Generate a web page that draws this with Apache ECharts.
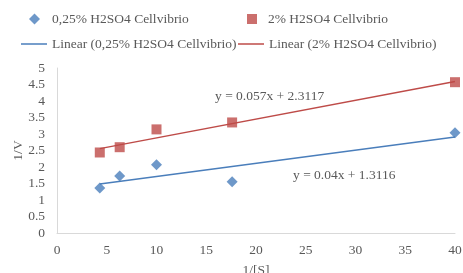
<!DOCTYPE html>
<html>
<head>
<meta charset="utf-8">
<script src="https://cdn.jsdelivr.net/npm/echarts@6/dist/echarts.min.js"></script>
<style>
  html, body { margin: 0; padding: 0; background: #fff; }
  #main { width: 463px; height: 273px; }
</style>
</head>
<body>
<div id="main"></div>
<script>
// 1/[S] values
var xValues = [4.3, 6.3, 10, 17.6, 40];
// 1/V values
var lowAcid = [1.36, 1.73, 2.07, 1.55, 3.04];
var highAcid = [2.44, 2.6, 3.14, 3.35, 4.57];
// trend lines (from the chart equations)
var lowSlope = 0.04, lowIntercept = 1.3116;
var highSlope = 0.057, highIntercept = 2.3117;

var names = ['0,25% H2SO4 Cellvibrio', '2% H2SO4 Cellvibrio',
  'Linear (0,25% H2SO4 Cellvibrio)', 'Linear (2% H2SO4 Cellvibrio)'];

function pairs(ys) {
  return xValues.map(function (x, i) { return [x, ys[i]]; });
}
function trend(a, b) {
  var x0 = Math.min.apply(null, xValues), x1 = Math.max.apply(null, xValues);
  return [[x0, a * x0 + b], [x1, a * x1 + b]];
}

var blue = '#4a7ebb', red = '#be4b48';
var font = 'Liberation Serif';
var textColor = '#595959';
var fs = 13.5;

var myChart = echarts.init(document.getElementById('main'));
function legendText(padLeft) {
  return { fontFamily: font, fontSize: fs, color: textColor, padding: [0, 0, 0, padLeft] };
}
myChart.setOption({
  animation: false,
  legend: [
    { data: [{ name: names[0], icon: 'diamond' }], left: 29, top: 12, padding: 0, itemWidth: 11, itemHeight: 11, textStyle: legendText(7) },
    { data: [{ name: names[1], icon: 'rect' }], left: 247, top: 12, padding: 0, itemWidth: 10, itemHeight: 10, textStyle: legendText(6) },
    { data: [{ name: names[2], icon: 'rect' }], left: 21, top: 37, padding: 0, itemWidth: 26, itemHeight: 1.5, textStyle: legendText(0) },
    { data: [{ name: names[3], icon: 'rect' }], left: 238, top: 37, padding: 0, itemWidth: 26, itemHeight: 1.5, textStyle: legendText(0) }
  ],
  grid: { left: 57, right: 8, top: 68, bottom: 40, containLabel: false, outerBoundsMode: 'none' },
  xAxis: {
    type: 'value', min: 0, max: 40, interval: 5,
    name: '1/[S]', nameLocation: 'middle', nameGap: 30, nameMoveOverlap: false,
    nameTextStyle: { fontFamily: font, fontSize: fs, color: textColor },
    axisLine: { lineStyle: { color: '#d9d9d9' } },
    axisTick: { show: false },
    splitLine: { show: false },
    axisLabel: { fontFamily: font, fontSize: fs, color: textColor, margin: 10 }
  },
  yAxis: {
    type: 'value', min: 0, max: 5, interval: 0.5,
    name: '1/V', nameLocation: 'middle', nameGap: 32, nameMoveOverlap: false,
    nameTextStyle: { fontFamily: font, fontSize: fs, color: textColor },
    axisLine: { show: true, lineStyle: { color: '#d9d9d9' } },
    axisTick: { show: false },
    splitLine: { show: false },
    axisLabel: { fontFamily: font, fontSize: fs, color: textColor, margin: 12 }
  },
  graphic: [
    { type: 'text', left: 215, top: 89, style: { text: 'y = 0.057x + 2.3117', font: fs + 'px "Liberation Serif"', fill: textColor } },
    { type: 'text', left: 293, top: 168, style: { text: 'y = 0.04x + 1.3116', font: fs + 'px "Liberation Serif"', fill: textColor } }
  ],
  series: [
    { name: names[2], type: 'line', data: trend(lowSlope, lowIntercept), showSymbol: false, color: blue, lineStyle: { width: 1.5, color: blue }, z: 1 },
    { name: names[3], type: 'line', data: trend(highSlope, highIntercept), showSymbol: false, color: red, lineStyle: { width: 1.5, color: red }, z: 1 },
    { name: names[0], type: 'scatter', data: pairs(lowAcid), symbol: 'diamond', symbolSize: 11, itemStyle: { color: blue }, z: 3 },
    { name: names[1], type: 'scatter', data: pairs(highAcid), symbol: 'rect', symbolSize: 10, itemStyle: { color: red }, z: 3 }
  ]
});
</script>
</body>
</html>
